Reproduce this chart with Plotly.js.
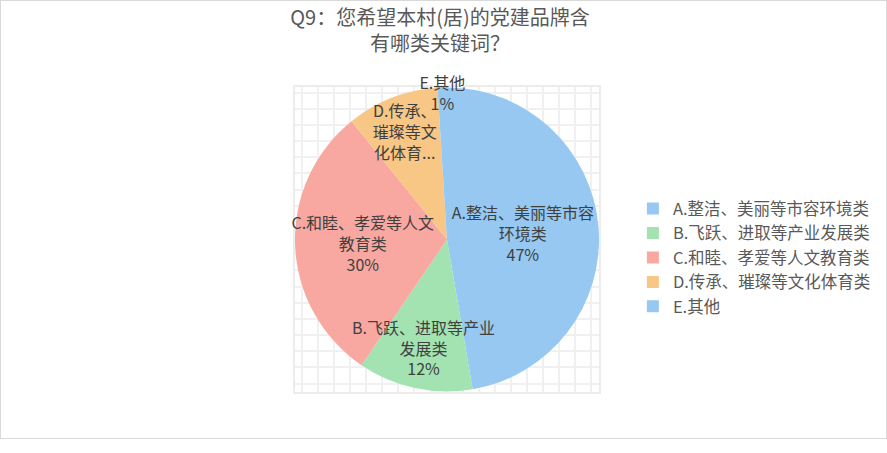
<!DOCTYPE html>
<html>
<head>
<meta charset="utf-8">
<script src="https://cdn.plot.ly/plotly-3.0.1.min.js"></script>
<style>
  body { margin: 0; background: #fff; }
  #chart { width: 885px; height: 437px; border: 1px solid #d9d9d9; }
</style>
</head>
<body>
<div id="chart"></div>
<script>
  // Q9 survey answers (share of respondents, %)
  const categories = [
    'A.整洁、美丽等市容环境类',
    'B.飞跃、进取等产业发展类',
    'C.和睦、孝爱等人文教育类',
    'D.传承、璀璨等文化体育类',
    'E.其他'
  ];
  const shares = [47.3, 12.2, 29.7, 9.8, 1.0];
  // labels as Excel wrapped / truncated them inside the slices
  const sliceLabels = [
    'A.整洁、美丽等市容<br>环境类',
    'B.飞跃、进取等产业<br>发展类',
    'C.和睦、孝爱等人文<br>教育类',
    'D.传承、<br>璀璨等文<br>化体育...',
    'E.其他'
  ];
  const showPercent = [true, true, true, false, true];
  const colors = ['#96c8f1', '#a3e3b1', '#f8a8a0', '#f8c685', '#96c8f1'];

  const textColor = '#404040';
  const font = 'Microsoft YaHei, "Noto Sans CJK SC", sans-serif';

  const pie = {
    type: 'pie',
    labels: categories,
    values: shares,
    text: sliceLabels,
    sort: false,
    direction: 'clockwise',
    rotation: 0,
    marker: { colors: colors, line: { width: 0 } },
    textinfo: 'none',
    texttemplate: showPercent.map(p => p ? '%{text}<br>%{percent:.0%}' : '%{text}'),
    textposition: 'inside',
    insidetextorientation: 'horizontal',
    insidetextfont: { color: textColor, size: 16, family: font },
    hoverinfo: 'skip'
  };

  // empty trace so the gridded plot area behind the pie is drawn
  const gridHolder = { type: 'scatter', x: [], y: [], showlegend: false, hoverinfo: 'skip' };

  const gridAxis = {
    showgrid: true, gridcolor: '#f0f0f0', gridwidth: 2,
    showline: true, linecolor: '#ececec', linewidth: 2, mirror: true,
    zeroline: false, showticklabels: false, ticks: '', dtick: 1, fixedrange: true
  };

  const layout = {
    width: 885, height: 437,
    margin: { l: 294, r: 287, t: 86, b: 46 },
    paper_bgcolor: '#fff',
    plot_bgcolor: '#fff',
    font: { family: font, color: '#595959' },
    title: {
      text: 'Q9：您希望本村(居)的党建品牌含<br>有哪类关键词？',
      font: { size: 20, color: '#595959', family: font },
      xref: 'container', x: 0.496, xanchor: 'center',
      yref: 'container', y: 0.944, yanchor: 'top'
    },
    xaxis: Object.assign({ range: [-0.46, 18.52] }, gridAxis),
    yaxis: Object.assign({ range: [-0.52, 18.35] }, gridAxis),
    uniformtext: { mode: 'show', minsize: 16 },
    legend: {
      xref: 'container', x: 0.714, xanchor: 'left',
      y: 0.44, yanchor: 'middle',
      itemwidth: 30,
      font: { size: 16.5, color: '#595959', family: font },
      bgcolor: 'rgba(0,0,0,0)'
    },
    showlegend: true
  };

  Plotly.newPlot('chart', [gridHolder, pie], layout, { displayModeBar: false, staticPlot: true })
    .then(gd => {
      // Excel draws the data labels above every slice, so lift them out of their slice groups
      gd.querySelectorAll('.pielayer .trace').forEach(tr => {
        tr.querySelectorAll('.slicetext').forEach(t => tr.appendChild(t));
      });
    });
</script>
</body>
</html>
